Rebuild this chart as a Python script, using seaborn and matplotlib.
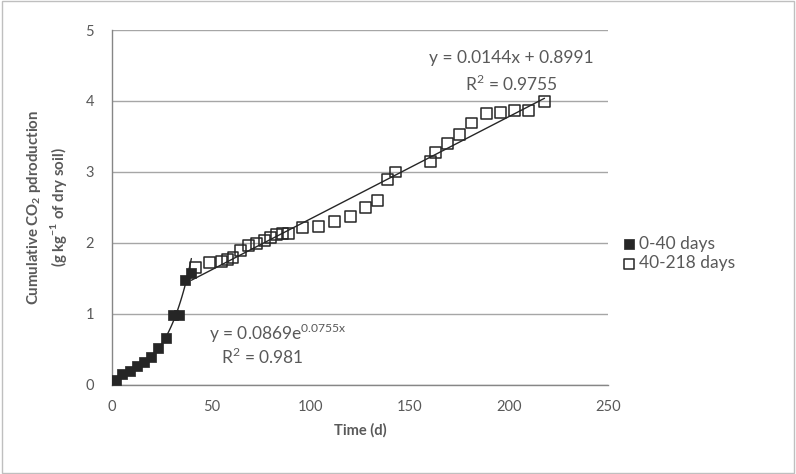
import numpy as np
import pandas as pd
import matplotlib.pyplot as plt
import seaborn as sns
from matplotlib.patches import Rectangle

# Data
early_days = [2, 5, 9, 12.5, 16, 19.5, 23, 27, 31, 34, 37, 40]
early_co2 = [0.07, 0.15, 0.2, 0.27, 0.32, 0.39, 0.52, 0.66, 0.99, 0.99, 1.48, 1.58]

late_days = [42, 49, 55, 58, 61, 65, 69, 73, 77, 80, 83, 86, 89, 96, 104, 112, 120,
             128, 134, 139, 143, 160.5, 163, 169, 175, 181, 189, 196, 203, 210, 218]
late_co2 = [1.66, 1.72, 1.74, 1.77, 1.8, 1.9, 1.96, 1.99, 2.03, 2.08, 2.12, 2.13, 2.14,
            2.22, 2.23, 2.3, 2.37, 2.5, 2.6, 2.9, 3.0, 3.15, 3.27, 3.4, 3.53, 3.69,
            3.83, 3.84, 3.86, 3.86, 3.99]

# trendline coefficients as printed on the chart
exp_a, exp_b = 0.0869, 0.0755
lin_m, lin_c = 0.0144, 0.8991

early = pd.DataFrame({'day': early_days, 'co2': early_co2, 'period': '0-40 days'})
late = pd.DataFrame({'day': late_days, 'co2': late_co2, 'period': '40-218 days'})

sns.set_style('white')
plt.rcParams['font.family'] = ['Lato', 'DejaVu Sans']
grey = '#595959'

fig = plt.figure(figsize=(7.96, 4.74), dpi=100)
ax = fig.add_axes([0.1407, 0.1878, 0.6231, 0.7489])

ax.grid(axis='y', color='#a6a6a6', linewidth=1)
ax.set_axisbelow(True)

# trendlines
xe = np.linspace(0, 40, 60)
xl = np.linspace(40, 218, 60)
sns.lineplot(x=xe, y=exp_a * np.exp(exp_b * xe), color='#262626', linewidth=1, ax=ax)
sns.lineplot(x=xl, y=lin_m * xl + lin_c, color='#262626', linewidth=1, ax=ax)

sns.scatterplot(data=early, x='day', y='co2', marker='s', s=55, color='#262626',
                edgecolor='#262626', linewidth=0.5, label='0-40 days', ax=ax, zorder=3)
sns.scatterplot(data=late, x='day', y='co2', marker='s', s=62, facecolor='none',
                edgecolor='#262626', linewidth=1.1, label='40-218 days', ax=ax, zorder=3)

ax.set_xlim(0, 250)
ax.set_ylim(0, 5)
ax.set_xticks(range(0, 251, 50))
ax.set_yticks(range(0, 6))
ax.tick_params(axis='both', colors='#868686', labelcolor=grey, labelsize=10.5,
               direction='out', length=5, width=1)
ax.tick_params(axis='x', pad=6)
ax.tick_params(axis='y', pad=8)
for side in ['top', 'right']:
    ax.spines[side].set_visible(False)
for side in ['left', 'bottom']:
    ax.spines[side].set_color('#868686')
    ax.spines[side].set_linewidth(1)

ax.set_xlabel('Time (d)', fontsize=10.5, fontweight='bold', color=grey, labelpad=6)
ax.set_ylabel('Cumulative CO$_\\mathregular{2}$ pdroduction\n(g kg$^{\\mathregular{-1}}$ of dry soil)',
              fontsize=10.8, fontweight='bold', color=grey, labelpad=12, linespacing=1.3)

fs = 12.5
ax.text(201.5, 4.61, 'y = 0.0144x + 0.8991', ha='center', va='center', fontsize=fs, color=grey)
ax.text(201.5, 4.24, 'R$^\\mathregular{2}$ = 0.9755', ha='center', va='center', fontsize=fs, color=grey)
ax.text(49, 0.73, 'y = 0.0869e$^{\\mathregular{0.0755x}}$', ha='left', va='center', fontsize=fs, color=grey)
ax.text(76, 0.39, 'R$^\\mathregular{2}$ = 0.981', ha='center', va='center', fontsize=fs, color=grey)

ax.legend(loc='center left', bbox_to_anchor=(0.99, 0.37), frameon=False, fontsize=12.5,
          labelcolor=grey, handletextpad=0.0, labelspacing=0.2, markerscale=0.9,
          handlelength=1.2)

fig.patches.append(Rectangle((0.003, 0.003), 0.994, 0.994, transform=fig.transFigure,
                             fill=False, edgecolor='#bfbfbf', linewidth=1))

fig.savefig('out.png', dpi=100)
